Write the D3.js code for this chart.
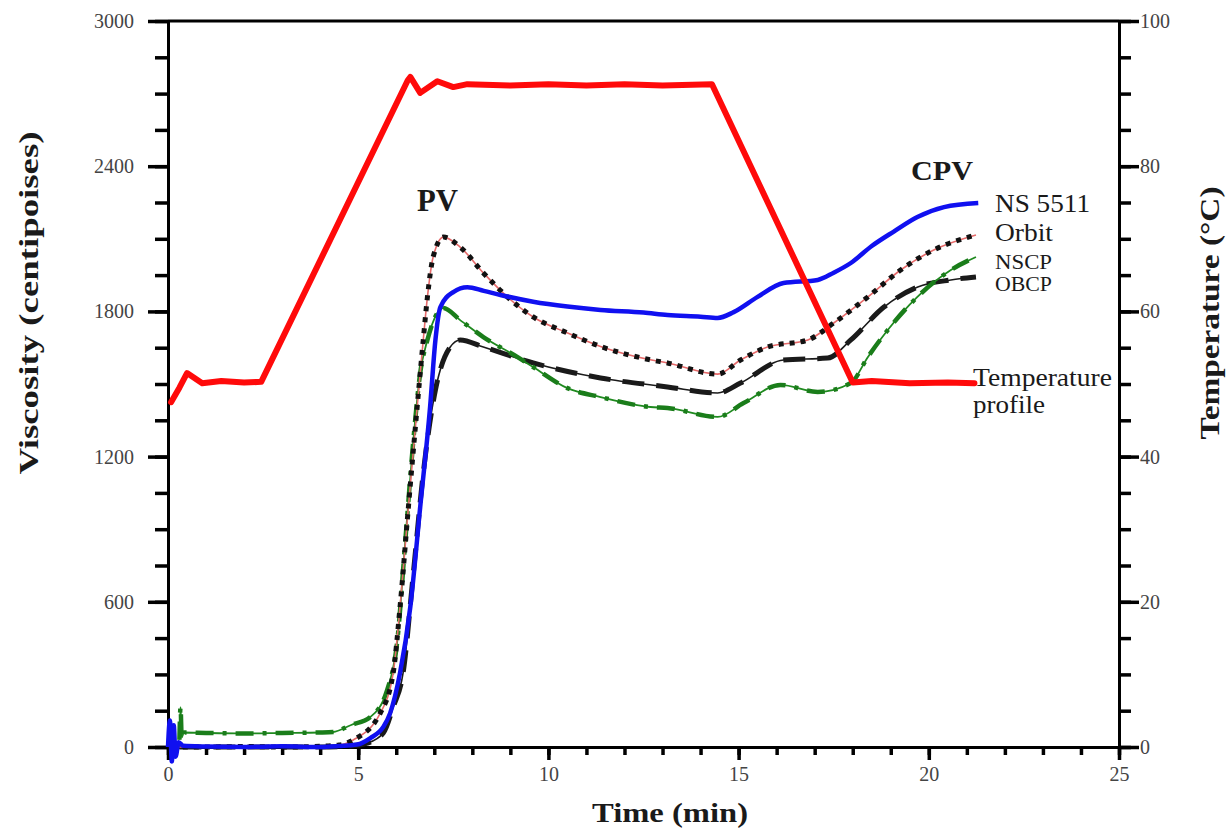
<!DOCTYPE html>
<html>
<head>
<meta charset="utf-8">
<script src="https://cdn.jsdelivr.net/npm/d3@7"></script>
<style>
  html, body { margin: 0; padding: 0; background: #fff; }
  svg { display: block; }
</style>
</head>
<body>
<svg id="chart" width="1231" height="834"></svg>
<script>
// ---------------- DATA ----------------
const xTicksMajor = [0, 5, 10, 15, 20, 25];
const yLeftTicksMajor = [0, 600, 1200, 1800, 2400, 3000];
const yRightTicksMajor = [0, 20, 40, 60, 80, 100];

// [time (min), viscosity (cP)]
const ns5511 = [
  [0.0, 0], [0.05, 110], [0.1, -60], [0.15, 90], [0.2, -40], [0.28, 20], [0.4, 5],
  [1, 2], [2, 0], [3, 3], [4, 0], [4.5, 4], [4.97, 10], [5.32, 37], [5.66, 83], [5.84, 140],
  [6.1, 306], [6.37, 579], [6.63, 992], [6.89, 1405], [7.03, 1682], [7.16, 1818],
  [7.5, 1880], [7.87, 1900], [8.3, 1885], [8.74, 1868], [9.6, 1840], [10.5, 1820],
  [11.37, 1806], [12.5, 1795], [13.13, 1785], [14.0, 1778], [14.45, 1773], [14.87, 1797],
  [15.5, 1860], [16.18, 1917], [17.08, 1930], [17.5, 1960], [17.95, 2000], [18.5, 2070],
  [19.08, 2130], [19.7, 2190], [20.4, 2231], [21.3, 2248]
];
const orbit = [
  [0.1, 0], [1, 0], [2, 2], [3, 0], [4, 3], [4.5, 8], [4.87, 29], [5.58, 140], [5.92, 306],
  [6.1, 579], [6.32, 992], [6.55, 1405], [6.71, 1682], [6.82, 1860], [6.97, 2025],
  [7.24, 2107], [7.68, 2066], [8.29, 1959], [8.92, 1860], [9.6, 1777], [10.5, 1711],
  [11.37, 1655], [12.68, 1600], [13.13, 1587], [14.45, 1541], [15.05, 1599], [15.76, 1653],
  [16.82, 1682], [17.5, 1752], [18.4, 1860], [19.26, 1971], [20.13, 2054], [21.24, 2116]
];
const nscp = [
  [0.3, 30], [0.33, 165], [0.36, 40], [0.42, 60], [1, 58], [2, 56], [3, 58], [4, 60],
  [4.34, 62], [4.8, 90], [5.32, 124], [5.76, 235], [6.03, 442], [6.24, 855], [6.45, 1268],
  [6.63, 1545], [6.82, 1682], [7.08, 1793], [7.24, 1814], [7.68, 1764], [8.29, 1694],
  [9.18, 1612], [9.6, 1570], [10.5, 1483], [11.37, 1446], [12.68, 1405], [13.13, 1401],
  [14.45, 1364], [15.13, 1421], [16.1, 1496], [17.08, 1467], [17.95, 1504], [18.4, 1612],
  [18.92, 1723], [19.7, 1860], [20.58, 1971], [21.24, 2025]
];
const obcp = [
  [0.3, 0], [1, 0], [2, 0], [3, 0], [4, 0], [4.8, 4], [5.24, 16], [5.66, 58], [5.92, 165],
  [6.18, 306], [6.45, 719], [6.71, 1132], [7.03, 1475], [7.42, 1653], [7.68, 1682],
  [8.29, 1653], [9.6, 1587], [11.37, 1525], [13.13, 1488], [14.45, 1463], [15.05, 1504],
  [16.18, 1599], [17.34, 1607], [17.95, 1682], [18.82, 1818], [19.71, 1901], [20.58, 1930],
  [21.24, 1942]
];
// [time (min), temperature (°C)]
const temperature = [
  [0.08, 47.5], [0.3, 49.5], [0.5, 51.5], [0.9, 50.1], [1.4, 50.4], [2.0, 50.2], [2.45, 50.3],
  [6.3, 91.8], [6.37, 92.3], [6.63, 90.1], [7.08, 91.7], [7.5, 90.9], [7.87, 91.3],
  [9, 91.1], [10, 91.3], [11, 91.1], [12, 91.3], [13, 91.1], [14.3, 91.3],
  [18.0, 50.2], [18.5, 50.4], [19.5, 50.1], [20.5, 50.2], [21.2, 50.1]
];

// ---------------- LAYOUT ----------------
const FONT = "Liberation Serif, Times New Roman, Times, serif";
const svg = d3.select("#chart");
const L = 168, R = 1119, T = 21, B = 747;

const x = d3.scaleLinear().domain([0, 25]).range([L, R]);
const yV = d3.scaleLinear().domain([0, 3000]).range([B, T]);
const yT = d3.scaleLinear().domain([0, 100]).range([B, T]);

const tickFont = 20, tickColor = "#444";

function styleAxis(g, showLabels) {
  g.attr("font-family", FONT).attr("font-size", tickFont);
  g.select(".domain").attr("stroke", "#000").attr("stroke-width", 3);
  g.selectAll(".tick line").attr("stroke", "#000").attr("stroke-width", 3.5);
  g.selectAll(".tick text")
    .attr("fill", tickColor)
    .attr("font-family", FONT)
    .attr("font-size", tickFont);
  if (!showLabels) g.selectAll(".tick text").remove();
}

// minor ticks
svg.append("g").attr("transform", `translate(0,${B})`)
  .call(d3.axisBottom(x).tickValues(d3.range(0, 26, 1)).tickSize(8).tickSizeOuter(0).tickFormat(""))
  .call(g => styleAxis(g, false));
svg.append("g").attr("transform", `translate(${L},0)`)
  .call(d3.axisLeft(yV).tickValues(d3.range(0, 3001, 150)).tickSize(13).tickSizeOuter(0).tickFormat(""))
  .call(g => styleAxis(g, false));
svg.append("g").attr("transform", `translate(${R},0)`)
  .call(d3.axisRight(yT).tickValues(d3.range(0, 101, 5)).tickSize(12).tickSizeOuter(0).tickFormat(""))
  .call(g => styleAxis(g, false));

// major ticks
svg.append("g").attr("transform", `translate(0,${B})`)
  .call(d3.axisBottom(x).tickValues(xTicksMajor).tickSize(13).tickPadding(7).tickSizeOuter(0).tickFormat(d3.format("d")))
  .call(g => styleAxis(g, true));
svg.append("g").attr("transform", `translate(${L},0)`)
  .call(d3.axisLeft(yV).tickValues(yLeftTicksMajor).tickSize(20).tickPadding(14).tickSizeOuter(0).tickFormat(d3.format("d")))
  .call(g => styleAxis(g, true));
svg.append("g").attr("transform", `translate(${R},0)`)
  .call(d3.axisRight(yT).tickValues(yRightTicksMajor).tickSize(20).tickPadding(1).tickSizeOuter(0).tickFormat(d3.format("d")))
  .call(g => styleAxis(g, true));

// top frame line
svg.append("line")
  .attr("x1", x(0)).attr("x2", x(25)).attr("y1", yV(3000)).attr("y2", yV(3000))
  .attr("stroke", "#000").attr("stroke-width", 3);

// ---------------- LINES ----------------
const lineV = d3.line().x(d => x(d[0])).y(d => yV(d[1])).curve(d3.curveMonotoneX);
const lineT = d3.line().x(d => x(d[0])).y(d => yT(d[1])).curve(d3.curveLinear);

const plot = svg.append("g");

// OBCP: thin black line with thick dashes
plot.append("path").datum(obcp).attr("d", lineV)
  .attr("fill", "none").attr("stroke", "#1a1a1a").attr("stroke-width", 1.6);
plot.append("path").datum(obcp).attr("d", lineV)
  .attr("fill", "none").attr("stroke", "#1a1a1a").attr("stroke-width", 5)
  .attr("stroke-dasharray", "22,12");

// NSCP: thin green line with thick dashes / dots
plot.append("path").datum(nscp).attr("d", lineV)
  .attr("fill", "none").attr("stroke", "#1f8a1f").attr("stroke-width", 1.8);
plot.append("path").datum(nscp).attr("d", lineV)
  .attr("fill", "none").attr("stroke", "#1a7d1a").attr("stroke-width", 4.5)
  .attr("stroke-dasharray", "18,9,4,9");

// Orbit: thin red line with black dots
plot.append("path").datum(orbit).attr("d", lineV)
  .attr("fill", "none").attr("stroke", "#e66a6a").attr("stroke-width", 1.6);
plot.append("path").datum(orbit).attr("d", lineV)
  .attr("fill", "none").attr("stroke", "#111").attr("stroke-width", 5)
  .attr("stroke-dasharray", "5,6");

// NS 5511: solid blue
plot.append("path").datum(ns5511).attr("d", lineV)
  .attr("fill", "none").attr("stroke", "#1010f0").attr("stroke-width", 4.5)
  .attr("stroke-linejoin", "round");

// Temperature: thick red
plot.append("path").datum(temperature).attr("d", lineT)
  .attr("fill", "none").attr("stroke", "#ff0a0a").attr("stroke-width", 6)
  .attr("stroke-linejoin", "round").attr("stroke-linecap", "round");

// ---------------- TEXT ----------------
const txtColor = "#1a1a1a";
function addText(str, tx, ty, size, opts = {}) {
  const t = svg.append("text")
    .attr("x", tx).attr("y", ty)
    .attr("fill", opts.color || txtColor)
    .attr("font-family", FONT)
    .attr("font-size", size)
    .attr("font-weight", opts.bold ? "bold" : "normal")
    .attr("text-anchor", opts.anchor || "start")
    .text(str);
  if (opts.len) t.attr("textLength", opts.len).attr("lengthAdjust", "spacingAndGlyphs");
  if (opts.rotate) t.attr("transform", `rotate(${opts.rotate},${tx},${ty})`);
  return t;
}

// axis titles
addText("Viscosity (centipoises)", 38, 303, 28, { bold: true, anchor: "middle", rotate: -90, len: 343 });
addText("Temperature (°C)", 1219, 313, 27, { bold: true, anchor: "middle", rotate: -90, len: 253 });
addText("Time (min)", 670, 822, 28, { bold: true, anchor: "middle", len: 156 });

// annotations
addText("PV", 417, 211, 31, { bold: true, len: 41 });
addText("CPV", 911, 180, 28, { bold: true, len: 62 });

// series labels
addText("NS 5511", 995, 212, 26, { len: 95 });
addText("Orbit", 995, 241, 26, { len: 58 });
addText("NSCP", 995, 269, 20, { len: 57 });
addText("OBCP", 995, 291, 20, { len: 57 });
addText("Temperature", 973, 386, 26, { len: 139 });
addText("profile", 973, 413, 26, { len: 72 });
</script>
</body>
</html>
